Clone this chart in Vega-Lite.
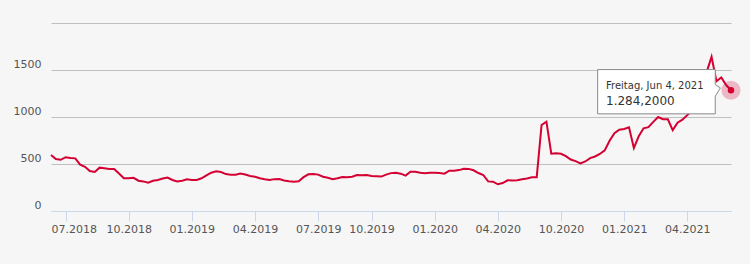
{
  "$schema": "https://vega.github.io/schema/vega-lite/v6.json",
  "width": 680,
  "height": 188,
  "autosize": {"type": "none"},
  "padding": {"left": 51, "top": 23, "right": 19, "bottom": 53},
  "background": "#f6f6f6",
  "config": {
    "view": {"stroke": null},
    "axis": {"labelFont": "DejaVu Sans", "labelFontSize": 11, "labelColor": "#555555", "title": null}
  },
  "data": {"values": [
    {"d":"2018-06-15","v":596},{"d":"2018-06-22","v":553},{"d":"2018-06-29","v":545},{"d":"2018-07-06","v":572},
    {"d":"2018-07-13","v":563},{"d":"2018-07-20","v":560},{"d":"2018-07-27","v":493},{"d":"2018-08-03","v":470},
    {"d":"2018-08-10","v":425},{"d":"2018-08-17","v":416},{"d":"2018-08-24","v":461},{"d":"2018-08-31","v":455},
    {"d":"2018-09-07","v":447},{"d":"2018-09-14","v":447},{"d":"2018-09-21","v":398},{"d":"2018-09-28","v":348},
    {"d":"2018-10-05","v":349},{"d":"2018-10-12","v":353},{"d":"2018-10-19","v":322},{"d":"2018-10-26","v":315},
    {"d":"2018-11-02","v":302},{"d":"2018-11-09","v":322},{"d":"2018-11-16","v":330},{"d":"2018-11-23","v":345},
    {"d":"2018-11-30","v":355},{"d":"2018-12-07","v":330},{"d":"2018-12-14","v":315},{"d":"2018-12-21","v":322},
    {"d":"2018-12-28","v":337},{"d":"2019-01-04","v":330},{"d":"2019-01-11","v":330},{"d":"2019-01-18","v":348},
    {"d":"2019-01-25","v":378},{"d":"2019-02-01","v":407},{"d":"2019-02-08","v":423},{"d":"2019-02-15","v":415},
    {"d":"2019-02-22","v":393},{"d":"2019-03-01","v":386},{"d":"2019-03-08","v":385},{"d":"2019-03-15","v":398},
    {"d":"2019-03-22","v":388},{"d":"2019-03-29","v":372},{"d":"2019-04-05","v":365},{"d":"2019-04-12","v":348},
    {"d":"2019-04-19","v":338},{"d":"2019-04-26","v":331},{"d":"2019-05-03","v":339},{"d":"2019-05-10","v":340},
    {"d":"2019-05-17","v":325},{"d":"2019-05-24","v":316},{"d":"2019-05-31","v":312},{"d":"2019-06-07","v":317},
    {"d":"2019-06-14","v":360},{"d":"2019-06-21","v":390},{"d":"2019-06-28","v":393},{"d":"2019-07-05","v":387},
    {"d":"2019-07-12","v":365},{"d":"2019-07-19","v":354},{"d":"2019-07-26","v":339},{"d":"2019-08-02","v":348},
    {"d":"2019-08-09","v":362},{"d":"2019-08-23","v":359},{"d":"2019-09-06","v":365},{"d":"2019-09-13","v":382},
    {"d":"2019-09-20","v":380},{"d":"2019-09-27","v":382},{"d":"2019-10-04","v":373},{"d":"2019-10-11","v":370},
    {"d":"2019-10-18","v":366},{"d":"2019-10-25","v":387},{"d":"2019-11-01","v":403},{"d":"2019-11-08","v":408},
    {"d":"2019-11-15","v":397},{"d":"2019-11-22","v":377},{"d":"2019-11-29","v":418},{"d":"2019-12-06","v":417},
    {"d":"2019-12-13","v":407},{"d":"2019-12-20","v":402},{"d":"2019-12-27","v":406},{"d":"2020-01-03","v":408},
    {"d":"2020-01-10","v":405},{"d":"2020-01-17","v":397},{"d":"2020-01-24","v":429},{"d":"2020-01-31","v":429},
    {"d":"2020-02-07","v":435},{"d":"2020-02-14","v":449},{"d":"2020-02-21","v":448},{"d":"2020-02-28","v":433},
    {"d":"2020-03-06","v":404},{"d":"2020-03-13","v":383},{"d":"2020-03-20","v":315},{"d":"2020-03-27","v":312},
    {"d":"2020-04-03","v":284},{"d":"2020-04-17","v":297},{"d":"2020-05-01","v":327},{"d":"2020-05-15","v":325},
    {"d":"2020-05-29","v":327},{"d":"2020-06-12","v":338},{"d":"2020-06-26","v":346},{"d":"2020-07-10","v":358},
    {"d":"2020-07-24","v":360},{"d":"2020-08-07","v":915},{"d":"2020-08-21","v":950},{"d":"2020-09-04","v":610},
    {"d":"2020-09-18","v":614},{"d":"2020-10-02","v":609},{"d":"2020-10-09","v":584},{"d":"2020-10-16","v":548},
    {"d":"2020-10-23","v":530},{"d":"2020-10-30","v":507},{"d":"2020-11-06","v":527},{"d":"2020-11-13","v":563},
    {"d":"2020-11-20","v":580},{"d":"2020-11-27","v":607},{"d":"2020-12-04","v":645},{"d":"2020-12-11","v":747},
    {"d":"2020-12-18","v":827},{"d":"2020-12-25","v":864},{"d":"2021-01-01","v":872},{"d":"2021-01-08","v":890},
    {"d":"2021-01-15","v":670},{"d":"2021-01-22","v":795},{"d":"2021-01-29","v":880},{"d":"2021-02-05","v":892},
    {"d":"2021-02-12","v":948},{"d":"2021-02-19","v":1000},{"d":"2021-02-26","v":976},{"d":"2021-03-05","v":975},
    {"d":"2021-03-12","v":860},{"d":"2021-03-19","v":940},{"d":"2021-03-26","v":972},{"d":"2021-04-02","v":1020},
    {"d":"2021-04-09","v":1070},{"d":"2021-04-16","v":1130},{"d":"2021-04-23","v":1250},{"d":"2021-04-30","v":1480},
    {"d":"2021-05-07","v":1640},{"d":"2021-05-14","v":1380},{"d":"2021-05-21","v":1420},{"d":"2021-05-28","v":1340},
    {"d":"2021-06-04","v":1284.2}
  ]},
  "encoding": {
    "x": {
      "field": "d", "type": "ordinal",
      "scale": {"type": "point", "padding": 0},
      "axis": {
        "values": ["2018-07-06","2018-10-05","2019-01-04","2019-04-05","2019-07-05","2019-10-04","2020-01-03","2020-04-03","2020-10-02","2021-01-01","2021-04-02"],
        "labelExpr": "substring(datum.value, 5, 7) + '.' + substring(datum.value, 0, 4)",
        "labelAngle": 0,
        "grid": false,
        "domainColor": "#ccd6eb",
        "tickColor": "#ccd6eb",
        "tickSize": 10,
        "labelPadding": 2,
        "labelFlush": 20,
        "labelFlushOffset": 14.5,
        "labelOverlap": false
      }
    },
    "y": {
      "field": "v", "type": "quantitative",
      "scale": {"domain": [0, 2000], "nice": false},
      "axis": {
        "values": [0, 500, 1000, 1500, 2000],
        "format": "d",
        "labelExpr": "datum.value == 2000 ? '' : datum.label",
        "domain": false,
        "ticks": false,
        "tickSize": 0,
        "labelPadding": 10,
        "labelBaseline": "alphabetic",
        "labelOffset": -2.5,
        "gridColor": {"condition": {"test": "datum.value == 0", "value": "#ccd6eb"}, "value": "#c0c0c0"}
      }
    }
  },
  "layer": [
    {"mark": {"type": "line", "color": "#d40032", "strokeWidth": 2}},
    {
      "transform": [{"filter": "datum.d == '2021-06-04'"}],
      "mark": {"type": "point", "filled": true, "size": 361, "color": "#d40032", "opacity": 0.25}
    },
    {
      "transform": [{"filter": "datum.d == '2021-06-04'"}],
      "mark": {"type": "point", "filled": true, "size": 42, "color": "#d40032", "opacity": 1}
    },
    {
      "transform": [{"filter": "datum.d == '2021-06-04'"}],
      "mark": {
        "type": "point",
        "shape": "M-0.889,-0.138 L-0.105,-0.138 L-0.105,-0.038 L-0.071,-0.016 L-0.105,0.04 L-0.105,0.157 L-0.889,0.157 Z",
        "size": 90000,
        "filled": true,
        "fill": "#ffffff",
        "stroke": "#8a8a8a",
        "strokeWidth": 1,
        "opacity": 1
      }
    },
    {
      "transform": [{"filter": "datum.d == '2021-06-04'"}],
      "mark": {"type": "text", "text": "Freitag, Jun 4, 2021", "align": "left", "baseline": "alphabetic", "dx": -125, "dy": -1, "font": "DejaVu Sans", "fontSize": 10, "color": "#333333"}
    },
    {
      "transform": [{"filter": "datum.d == '2021-06-04'"}],
      "mark": {"type": "text", "text": "1.284,2000", "align": "left", "baseline": "alphabetic", "dx": -125, "dy": 15, "font": "DejaVu Sans", "fontSize": 12, "color": "#333333"}
    }
  ]
}
